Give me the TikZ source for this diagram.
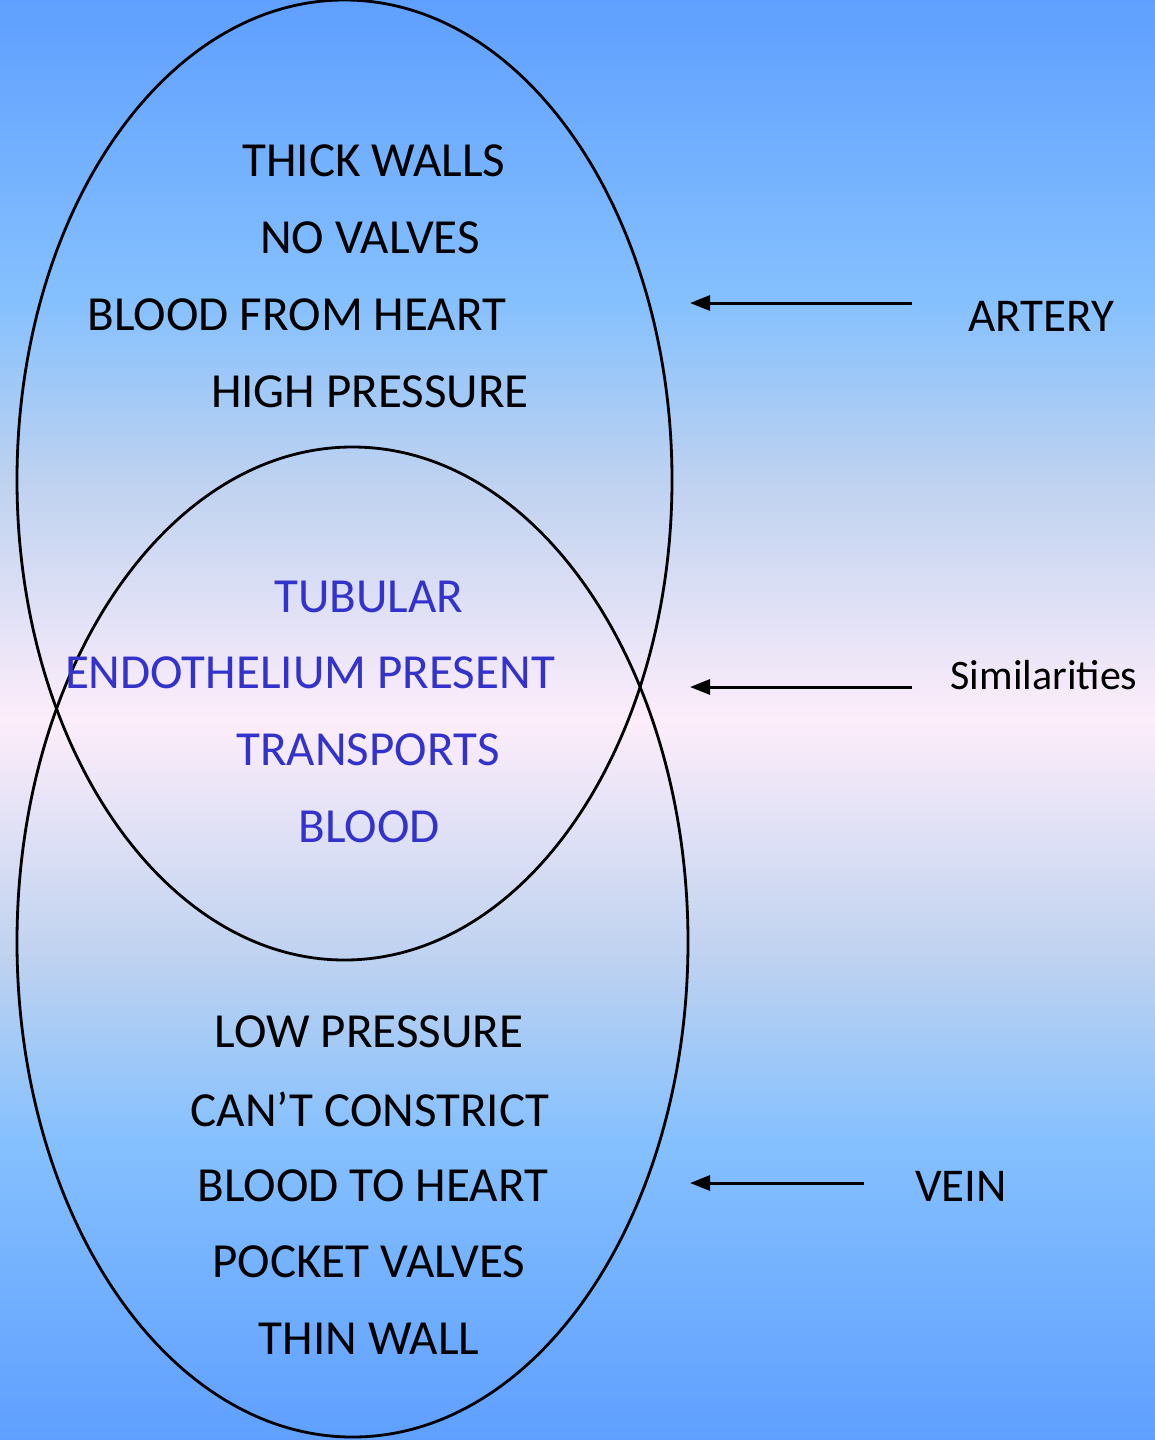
\documentclass[tikz,border=0pt]{standalone}
\usepackage{fontspec}
\setmainfont{Carlito}
\usetikzlibrary{arrows.meta}
\definecolor{skyBlue}{RGB}{95,159,255}
\definecolor{skyMidBlue}{RGB}{133,192,254}
\definecolor{skyHaze}{RGB}{190,210,240}
\definecolor{skyPink}{RGB}{253,237,250}
\definecolor{shareBlue}{RGB}{51,51,204}
\pgfdeclareverticalshading{vennSky}{100bp}{color(0bp)=(skyBlue); color(25bp)=(skyBlue); color(35.4bp)=(skyMidBlue); color(41.7bp)=(skyHaze); color(50bp)=(skyPink); color(58.3bp)=(skyHaze); color(64.6bp)=(skyMidBlue); color(75bp)=(skyBlue); color(100bp)=(skyBlue)}

\begin{document}
\begin{tikzpicture}[x=1pt,y=-1pt,
  item/.style={font=\fontsize{49}{58}\selectfont,inner sep=0pt},
  shared/.style={item,text=shareBlue},
  tag/.style={font=\fontsize{47}{56}\selectfont,inner sep=0pt},
  pointer/.style={line width=3pt,-{Triangle[length=20pt,width=15pt]}},
  ring/.style={line width=2.8pt}]
\useasboundingbox (0,0) rectangle (1155,1440);
\shade[shading=vennSky] (0,0) rectangle (1155,1440);

% the two vessels
\draw[ring] (344.5,480) ellipse [x radius=327.5pt, y radius=480pt];
\draw[ring] (352.5,942) ellipse [x radius=335.5pt, y radius=495pt];

% artery only
\node[item] (thick) at (374,161) {THICK WALLS};
\node[item] (novalve) at (370,238) {NO VALVES};
\node[item] (fromheart) at (297,315) {BLOOD FROM HEART};
\node[item] (highp) at (370,392) {HIGH PRESSURE};

% both
\node[shared] (tubular) at (369,597) {TUBULAR};
\node[shared] (endo) at (310,673) {ENDOTHELIUM PRESENT};
\node[shared] (transports) at (368,750) {TRANSPORTS};
\node[shared] (blood) at (369,827) {BLOOD};

% vein only
\node[item] (lowp) at (369,1032) {LOW PRESSURE};
\node[item] (constrict) at (370,1109) {CAN’T CONSTRICT};
\node[item] (toheart) at (373,1186) {BLOOD TO HEART};
\node[item] (pocket) at (369,1262) {POCKET VALVES};
\node[item] (thin) at (369,1339) {THIN WALL};

% labels on the right
\node[tag] (artery) at (1041,316) {ARTERY};
\node[tag,font=\fontsize{42}{50}\selectfont] (similar) at (1044,675) {Similarities};
\node[tag] (vein) at (961,1186) {VEIN};

\coordinate (arteryTail) at (912,303);
\coordinate (arteryTip) at (690,303);
\coordinate (similarTail) at (912,687);
\coordinate (similarTip) at (690,687);
\coordinate (veinTail) at (864,1183);
\coordinate (veinTip) at (690,1183);
\draw[pointer] (arteryTail) -- (arteryTip);
\draw[pointer] (similarTail) -- (similarTip);
\draw[pointer] (veinTail) -- (veinTip);
\end{tikzpicture}
\end{document}
